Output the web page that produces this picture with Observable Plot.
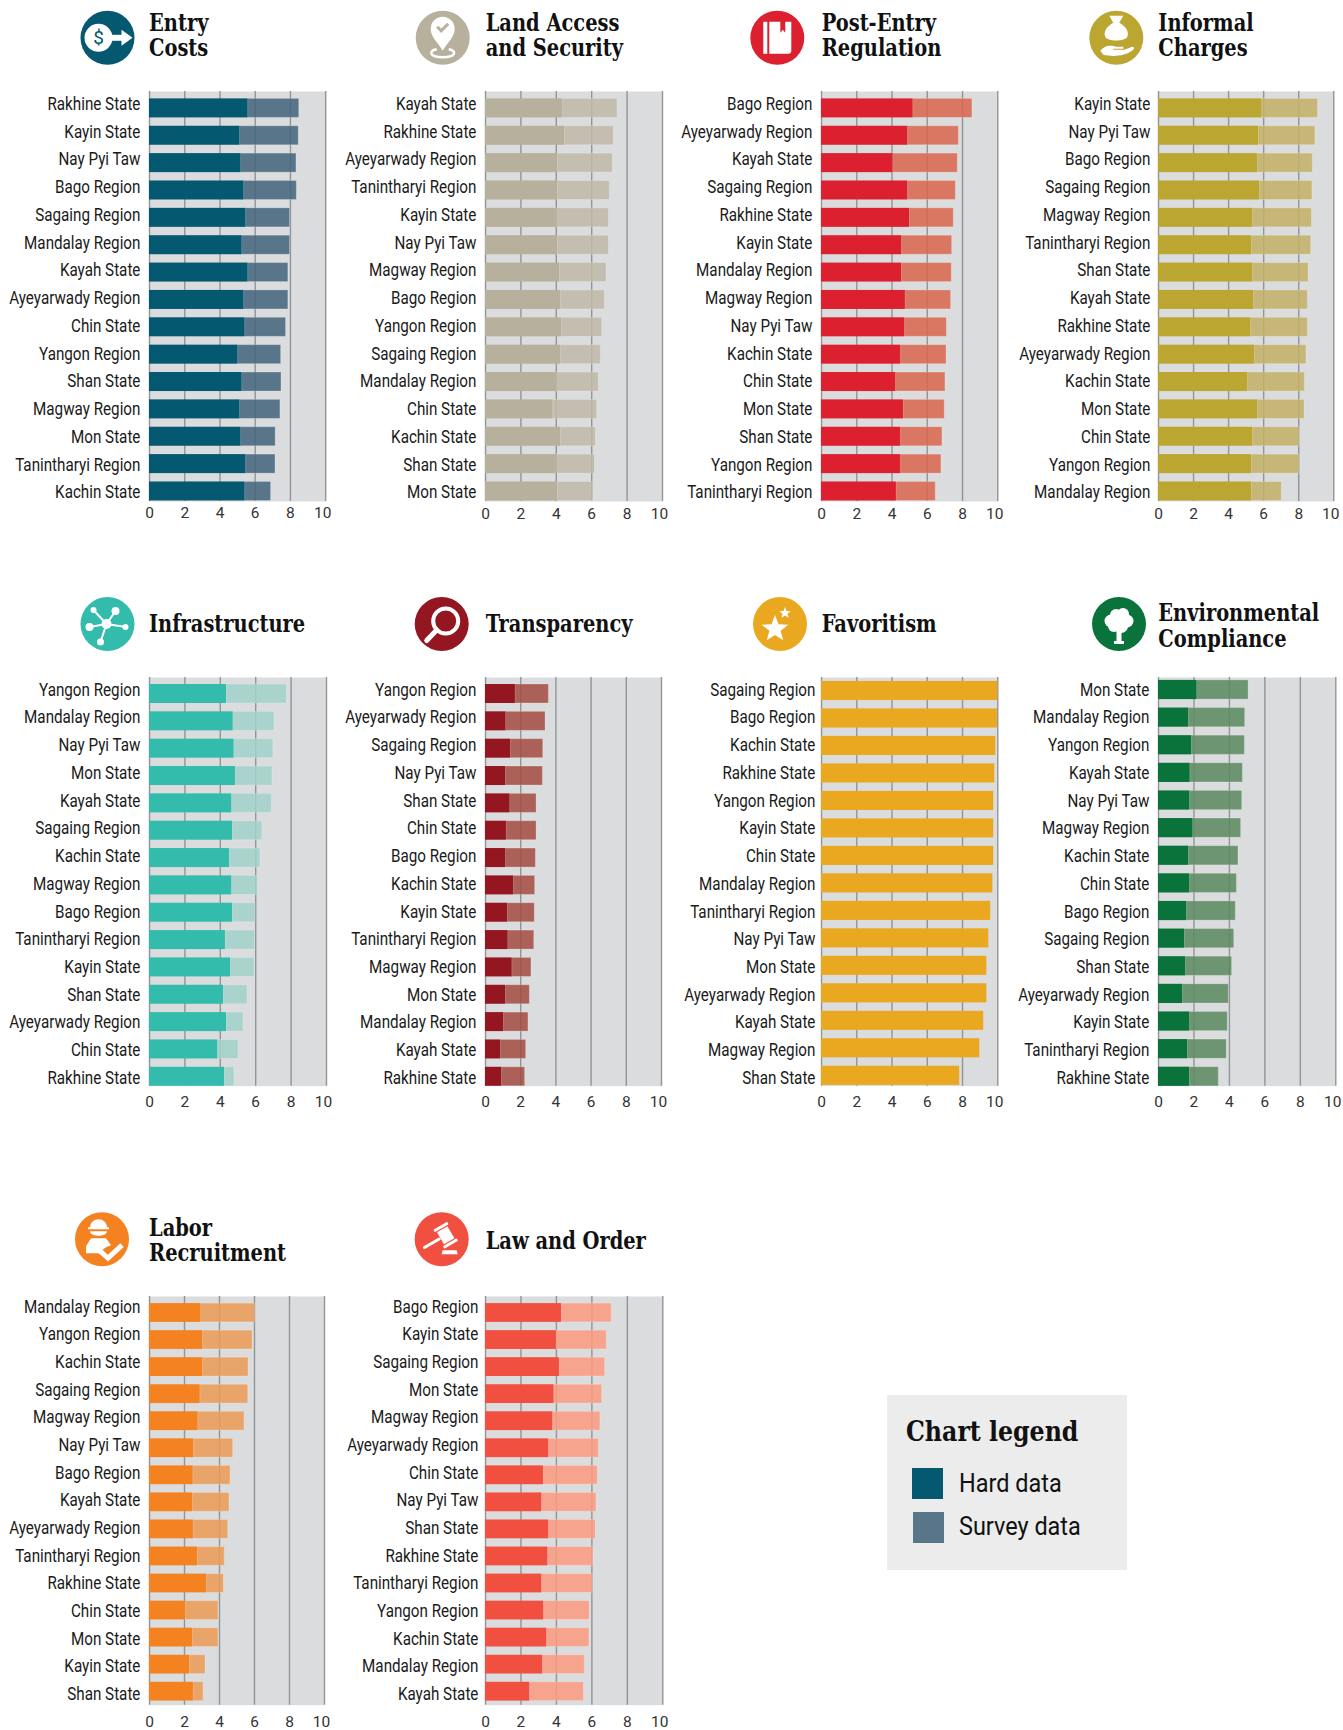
<!DOCTYPE html>
<html><head><meta charset="utf-8">
<script src="https://cdn.jsdelivr.net/npm/d3@7"></script>
<script src="https://cdn.jsdelivr.net/npm/@observablehq/plot@0.6"></script>
<style>
html,body{margin:0;padding:0;background:#fff;overflow:hidden}
#page{position:relative;width:1343px;height:1730px}
#page>svg,#page>div{position:absolute}
#page svg{overflow:visible}
.title{font-family:"DejaVu Serif Condensed","DejaVu Serif",serif;font-weight:700;fill:#111}
.leg{font-family:Roboto,sans-serif;fill:#111}
</style></head><body><div id="page"></div>
<script>
const entryStates=["Rakhine State","Kayin State","Nay Pyi Taw","Bago Region","Sagaing Region","Mandalay Region","Kayah State","Ayeyarwady Region","Chin State","Yangon Region","Shan State","Magway Region","Mon State","Tanintharyi Region","Kachin State"];
const entryHard=[5.6,5.14,5.2,5.37,5.48,5.26,5.6,5.37,5.43,5.03,5.26,5.14,5.2,5.48,5.43];
const entryTotal=[8.5,8.47,8.34,8.36,7.98,7.98,7.88,7.88,7.75,7.47,7.49,7.43,7.16,7.15,6.9];

const landStates=["Kayah State","Rakhine State","Ayeyarwady Region","Tanintharyi Region","Kayin State","Nay Pyi Taw","Magway Region","Bago Region","Yangon Region","Sagaing Region","Mandalay Region","Chin State","Kachin State","Shan State","Mon State"];
const landHard=[4.35,4.48,4.09,4.09,4.03,4.09,4.2,4.26,4.31,4.26,4.03,3.82,4.26,4.03,4.09];
const landTotal=[7.46,7.25,7.19,7.02,6.97,6.97,6.84,6.74,6.59,6.52,6.4,6.31,6.23,6.18,6.1];

const postStates=["Bago Region","Ayeyarwady Region","Kayah State","Sagaing Region","Rakhine State","Kayin State","Mandalay Region","Magway Region","Nay Pyi Taw","Kachin State","Chin State","Mon State","Shan State","Yangon Region","Tanintharyi Region"];
const postHard=[5.2,4.9,4.06,4.9,5.0,4.56,4.54,4.76,4.73,4.5,4.22,4.65,4.5,4.5,4.25];
const postTotal=[8.56,7.79,7.73,7.62,7.5,7.41,7.39,7.35,7.11,7.09,7.03,6.99,6.86,6.8,6.48];

const informalStates=["Kayin State","Nay Pyi Taw","Bago Region","Sagaing Region","Magway Region","Tanintharyi Region","Shan State","Kayah State","Rakhine State","Ayeyarwady Region","Kachin State","Mon State","Chin State","Yangon Region","Mandalay Region"];
const informalHard=[5.91,5.72,5.67,5.78,5.38,5.32,5.38,5.44,5.27,5.48,5.1,5.67,5.38,5.32,5.32];
const informalTotal=[9.1,8.95,8.8,8.78,8.75,8.71,8.56,8.52,8.52,8.44,8.35,8.33,8.06,8.04,7.03];

const infraStates=["Yangon Region","Mandalay Region","Nay Pyi Taw","Mon State","Kayah State","Sagaing Region","Kachin State","Magway Region","Bago Region","Tanintharyi Region","Kayin State","Shan State","Ayeyarwady Region","Chin State","Rakhine State"];
const infraHard=[4.35,4.73,4.78,4.86,4.65,4.69,4.52,4.65,4.69,4.29,4.58,4.18,4.35,3.86,4.24];
const infraTotal=[7.76,7.06,7.0,6.95,6.91,6.37,6.27,6.12,5.99,5.97,5.93,5.54,5.31,5.03,4.8];

const transStates=["Yangon Region","Ayeyarwady Region","Sagaing Region","Nay Pyi Taw","Shan State","Chin State","Bago Region","Kachin State","Kayin State","Tanintharyi Region","Magway Region","Mon State","Mandalay Region","Kayah State","Rakhine State"];
const transHard=[1.7,1.17,1.42,1.14,1.4,1.19,1.16,1.59,1.25,1.29,1.52,1.14,1.04,0.87,0.93];
const transTotal=[3.6,3.41,3.28,3.26,2.9,2.9,2.86,2.82,2.8,2.77,2.61,2.52,2.44,2.31,2.25];

const favStates=["Sagaing Region","Bago Region","Kachin State","Rakhine State","Yangon Region","Kayin State","Chin State","Mandalay Region","Tanintharyi Region","Nay Pyi Taw","Mon State","Ayeyarwady Region","Kayah State","Magway Region","Shan State"];
const favHard=[10,9.98,9.89,9.83,9.77,9.77,9.77,9.72,9.6,9.49,9.38,9.38,9.2,8.98,7.84];
const favTotal=favHard;

const envStates=["Mon State","Mandalay Region","Yangon Region","Kayah State","Nay Pyi Taw","Magway Region","Kachin State","Chin State","Bago Region","Sagaing Region","Shan State","Ayeyarwady Region","Kayin State","Tanintharyi Region","Rakhine State"];
const envHard=[2.18,1.71,1.88,1.79,1.77,1.95,1.71,1.77,1.6,1.48,1.54,1.37,1.77,1.65,1.75];
const envTotal=[5.08,4.89,4.87,4.76,4.72,4.66,4.51,4.42,4.36,4.27,4.15,3.97,3.91,3.85,3.4];

const laborStates=["Mandalay Region","Yangon Region","Kachin State","Sagaing Region","Magway Region","Nay Pyi Taw","Bago Region","Kayah State","Ayeyarwady Region","Tanintharyi Region","Rakhine State","Chin State","Mon State","Kayin State","Shan State"];
const laborHard=[2.95,3.03,3.03,2.9,2.78,2.53,2.5,2.46,2.51,2.74,3.26,2.06,2.46,2.29,2.51];
const laborTotal=[6.04,5.89,5.66,5.64,5.43,4.78,4.63,4.57,4.5,4.3,4.25,3.94,3.94,3.2,3.09];

const lawStates=["Bago Region","Kayin State","Sagaing Region","Mon State","Magway Region","Ayeyarwady Region","Chin State","Nay Pyi Taw","Shan State","Rakhine State","Tanintharyi Region","Yangon Region","Kachin State","Mandalay Region","Kayah State"];
const lawHard=[4.29,4.0,4.17,3.87,3.8,3.57,3.27,3.18,3.57,3.52,3.18,3.29,3.46,3.23,2.5];
const lawTotal=[7.12,6.84,6.75,6.58,6.48,6.39,6.33,6.26,6.22,6.09,6.05,5.88,5.86,5.6,5.55];

const xTicks=[0,2,4,6,8,10];

// layout: px positions of each row / panel
const rowTop=[90.5,677,1296], rowBottom=[500.5,1085.7,1704.7];
const rowBars=[[107.4,490.5],[693.5,1076.3],[1312.5,1691.2]];
const rowLabels=[[103,491.7],[689.5,1077.6],[1306.4,1693.6]];
const rowTickPad=[6,9.8,10.8];
const labelScale=0.845, labelFont=18;

const panels=[
 {t:["Entry","Costs"],s:entryStates,h:entryHard,v:entryTotal,c:"#04586f",o:"#587589",row:0,x0:149.5,x1:325.7,lr:140.4,tx:149,ty:[31.3,56.3],ix:107.5,iy:37.8,icon:"entry"},
 {t:["Land Access","and Security"],s:landStates,h:landHard,v:landTotal,c:"#b7b09c",o:"#c3beae",row:0,x0:485.7,x1:662.7,lr:475.6,tx:485.7,ty:[31.3,56.3],ix:442.7,iy:37.8,icon:"land"},
 {t:["Post-Entry","Regulation"],s:postStates,h:postHard,v:postTotal,c:"#dc202f",o:"#d97761",row:0,x0:821.7,x1:998,lr:812.2,tx:821.7,ty:[31.3,56.3],ix:777.3,iy:37.8,icon:"post"},
 {t:["Informal","Charges"],s:informalStates,h:informalHard,v:informalTotal,c:"#bca632",o:"#c5b778",row:0,x0:1158.7,x1:1334,lr:1149.6,tx:1158.3,ty:[31.3,56.3],ix:1116.3,iy:37.8,icon:"informal"},
 {t:["Infrastructure"],s:infraStates,h:infraHard,v:infraTotal,c:"#33bbab",o:"#aad3cd",row:1,x0:149,x1:326,lr:140.4,tx:149,ty:[631.6],ix:107.5,iy:624,icon:"infra"},
 {t:["Transparency"],s:transStates,h:transHard,v:transTotal,c:"#931621",o:"#ab6157",row:1,x0:485,x1:661,lr:475.6,tx:485.7,ty:[631.6],ix:441.7,iy:624,icon:"trans"},
 {t:["Favoritism"],s:favStates,h:favHard,v:favTotal,c:"#e9a820",o:"#e9a820",row:1,x0:821.7,x1:998,lr:814.9,tx:821.7,ty:[631.6],ix:780,iy:624,icon:"fav",bars:[690.5,1075.3]},
 {t:["Environmental","Compliance"],s:envStates,h:envHard,v:envTotal,c:"#0a733c",o:"#6e9570",row:1,x0:1158.7,x1:1336,lr:1148.9,tx:1158.3,ty:[620.8,646.8],ix:1119,iy:624,icon:"env",bars:[689.5,1076.3]},
 {t:["Labor","Recruitment"],s:laborStates,h:laborHard,v:laborTotal,c:"#f58220",o:"#e9a469",row:2,x0:149,x1:324,lr:140.4,tx:149,ty:[1235.8,1260.8],ix:102,iy:1239.2,icon:"labor"},
 {t:["Law and Order"],s:lawStates,h:lawHard,v:lawTotal,c:"#f15041",o:"#f6a48d",row:2,x0:485.7,x1:663,lr:477.6,tx:485.7,ty:[1249.2],ix:441.7,iy:1239.2,icon:"law"}
];

const page=document.getElementById("page");
const bg="#dadcde", grid="#929497", alpha=0.86;
// base colour such that the translucent survey bar reads as the target colour over the panel
function under(hex){const a=d3.rgb(hex),b=d3.rgb(bg);
  const f=k=>Math.max(0,Math.min(255,(a[k]-(1-alpha)*b[k])/alpha));
  return d3.rgb(f("r"),f("g"),f("b")).formatHex();}

for(const p of panels){
  const top=rowTop[p.row],bot=rowBottom[p.row];
  const mL=14,mR=24,mB=30;
  const [b0,b1]=p.bars||rowBars[p.row];
  const step=(b1-b0)/14;
  const rows=p.s.map((name,i)=>({name,hard:p.h[i],total:p.v[i]}));
  const tickOpts={tickSize:0,tickPadding:rowTickPad[p.row],fontSize:15.5,fontFamily:"Roboto",color:"#333",label:null,anchor:"bottom"};
  const chart=Plot.plot({
    width:p.x1-p.x0+mL+mR,height:bot-top+mB,
    marginLeft:mL,marginRight:mR,marginTop:0,marginBottom:mB,
    style:{background:"transparent",overflow:"visible"},
    x:{domain:[0,10],ticks:xTicks,label:null},
    y:{type:"band",domain:p.s,range:[b0-top-step/2,b1-top+step/2],paddingInner:0.305,paddingOuter:0.1525,round:false,axis:null,label:null},
    marks:[
      Plot.frame({fill:bg,stroke:null}),
      Plot.ruleX(xTicks,{stroke:grid,strokeWidth:1.4}),
      Plot.barX(rows,{x1:"hard",x2:"total",y:"name",fill:under(p.o),fillOpacity:alpha,stroke:"#fff",strokeOpacity:p.h===favHard?0:0.22,strokeWidth:1}),
      Plot.barX(rows,{x1:0,x2:"hard",y:"name",fill:p.c}),
      Plot.axisX(xTicks.slice(0,-1),tickOpts),
      Plot.axisX(xTicks.slice(-1),{...tickOpts,dx:-3})
    ]
  });
  chart.style.position="absolute";chart.style.left=(p.x0-mL-0.5)+"px";chart.style.top=top+"px";
  page.append(chart);

  const [l0,l1]=rowLabels[p.row];
  const ls=(l1-l0)/14, W=190;
  const labels=Plot.plot({
    width:W,height:bot-top+mB,marginLeft:W,marginRight:0,marginTop:0,marginBottom:0,
    style:{background:"transparent",overflow:"visible"},
    x:{axis:null},
    y:{type:"band",domain:p.s,range:[l0-top-ls/2,l1-top+ls/2],paddingInner:0.1,paddingOuter:0.05,round:false,label:null,axis:null},
    marks:[Plot.axisY({anchor:"left",tickSize:0,tickPadding:0,fontSize:labelFont,fontFamily:"Roboto",color:"#1a1a1a",label:null})]
  });
  labels.style.position="absolute";labels.style.left=(p.lr-W)+"px";labels.style.top=top+"px";
  labels.style.transformOrigin="100% 0";labels.style.transform=`scaleX(${labelScale})`;
  page.append(labels);
}

// overlay: headings, icons, legend
const W="#fff";
function star(cx,cy,r){let s="";for(let i=0;i<10;i++){const R=i%2?r*0.42:r,a=-Math.PI/2+i*Math.PI/5;s+=(i?"L":"M")+(cx+R*Math.cos(a)).toFixed(2)+","+(cy+R*Math.sin(a)).toFixed(2);}return s+"Z";}
const icons={
 entry:c=>`<circle cx="-9" r="14" fill="${W}"/><rect x="2" y="-3" width="14" height="6" fill="${W}"/><path d="M14,-8L25,0L14,8Z" fill="${W}"/><text x="-9" y="6.5" text-anchor="middle" font-family="Roboto" font-size="19" fill="${c}">$</text>`,
 land:c=>`<path d="M0,13C-4,5-12,0-12,-9A12,12 0 1 1 12,-9C12,0 4,5 0,13Z" fill="${W}"/><path d="M-5.5,-11L-1.5,-7L5.5,-14" stroke="${c}" stroke-width="3" fill="none"/><path d="M-6,11.5C-15,13-13,19.5 0,19.5C13,19.5 15,13 6,11.5" fill="none" stroke="${W}" stroke-width="2.5"/>`,
 post:c=>`<path d="M-14,-16H-10V16H-14Z" fill="${W}"/><path d="M-8,-16H3V-5L5.5,-8L8,-5V-16H14V13Q14,16 11,16H-8Z" fill="${W}"/>`,
 informal:c=>`<path d="M-7,-22L7,-22L3,-15C10,-11 13,-6 11,-1C9,4 -9,4 -11,-1C-13,-6 -10,-11 -3,-15Z" fill="${W}"/><path d="M-16,13C-10,6 -4,8 0,9H7V11H-3V12H8L16,9C18,9 18,11 17,12C8,19 -4,19 -13,17Z" fill="${W}"/>`,
 infra:c=>`<g stroke="${W}" stroke-width="2"><line x1="-1" y1="0" x2="-14" y2="-14"/><line x1="-1" y1="0" x2="8" y2="-13"/><line x1="-1" y1="0" x2="-18" y2="3"/><line x1="-1" y1="0" x2="18" y2="3"/><line x1="-1" y1="0" x2="-7" y2="18"/></g><g fill="${W}"><circle cx="-1" r="5"/><circle cx="-14" cy="-14" r="3"/><circle cx="8" cy="-13" r="4"/><circle cx="-18" cy="3" r="4"/><circle cx="18" cy="3" r="3"/><circle cx="-7" cy="18" r="3.5"/></g>`,
 trans:c=>`<circle cx="4" cy="-3" r="12.5" fill="none" stroke="${W}" stroke-width="4"/><line x1="-5" y1="6" x2="-15" y2="16.5" stroke="${W}" stroke-width="5" stroke-linecap="round"/>`,
 fav:c=>`<path d="${star(-5,5,14)}" fill="${W}"/><path d="${star(5,-11,6)}" fill="${W}"/>`,
 env:c=>`<path d="M-2.5,4H2.5V17H5V20H-5V17H-2.5Z" fill="${W}"/><g fill="${W}"><circle cx="-8" cy="-3" r="6.5"/><circle cx="-3" cy="-9" r="6"/><circle cx="4" cy="-10" r="6"/><circle cx="8" cy="-3" r="6.5"/><circle cx="2" cy="2" r="7"/><circle cx="-5" cy="2" r="6"/></g>`,
 labor:c=>`<path d="M-12,-12A8.5,8 0 0 1 5,-12H7V-10H-14V-12Z" fill="${W}"/><path d="M-12,-8H5C5,-2 -12,-2 -12,-8Z" fill="${W}"/><path d="M-11,-1H4L9,6C5,7 1,9 -1,14H-16V7Z" fill="${W}"/><path d="M-2,12L6,19L20,6" fill="none" stroke="${W}" stroke-width="5"/>`,
 law:c=>`<g transform="translate(4,-4) rotate(-30)" fill="${W}"><rect x="-26" y="-1.5" width="20" height="3" rx="1.5"/><rect x="-6" y="-7" width="12" height="14"/><rect x="-8" y="-11" width="16" height="3" rx="1"/><rect x="-8" y="8" width="16" height="3" rx="1"/></g><path d="M1,11H15L16,15H0Z" fill="${W}"/>`
};
let o=`<svg width="1343" height="1730" style="left:0;top:0;pointer-events:none">`;
for(const p of panels){
  o+=`<g transform="translate(${p.ix},${p.iy})"><circle r="27" fill="${p.c}"/>${icons[p.icon](p.c)}</g>`;
  p.t.forEach((line,i)=>{o+=`<text class="title" transform="translate(${p.tx},${p.ty[i]}) scale(.9,1)" font-size="24">${line}</text>`;});
}
o+=`<rect x="887" y="1395" width="240" height="175" fill="#ececec"/>`;
o+=`<text class="title" transform="translate(906,1441) scale(.94,1)" font-size="28">Chart legend</text>`;
o+=`<rect x="912" y="1468" width="31" height="31" fill="#04586f"/><rect x="913" y="1512" width="31" height="31" fill="#587589"/>`;
o+=`<g transform="translate(959,0) scale(.885,1)"><text class="leg" y="1491.7" font-size="26.5">Hard data</text><text class="leg" y="1535" font-size="26.5">Survey data</text></g>`;
o+=`</svg>`;
page.insertAdjacentHTML("beforeend",o);
</script></body></html>
